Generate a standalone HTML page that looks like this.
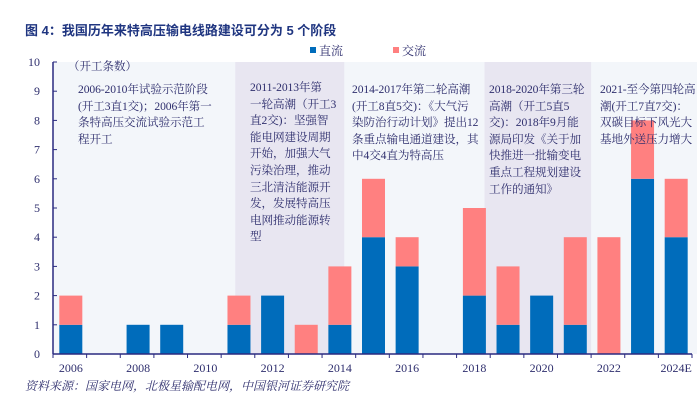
<!DOCTYPE html>
<html><head><meta charset="utf-8"><style>
body{margin:0;background:#fff;width:697px;height:408px;overflow:hidden;font-family:"Liberation Serif","Noto Serif CJK SC",serif;}
svg text{font-family:"Liberation Serif","Noto Serif CJK SC",serif;}
.ann{position:absolute;font-size:11.6px;line-height:16.6px;color:#2f2f6e;white-space:nowrap;letter-spacing:-0.1px;font-family:"Liberation Serif","Noto Serif CJK SC",serif;}
</style></head><body>
<div style="position:absolute;left:25px;top:20px;font-size:13px;font-weight:bold;color:#1f3580;font-family:'Liberation Sans','Noto Sans CJK SC',sans-serif;">图 4：我国历年来特高压输电线路建设可分为 5 个阶段</div>
<svg id="c" width="697" height="408" style="position:absolute;left:0;top:0"></svg>
<div class="ann" style="left:78px;top:82px">2006-2010年试验示范阶段<br>(开工3直1交)；2006年第一<br>条特高压交流试验示范工<br>程开工</div>
<div class="ann" style="left:250px;top:80px">2011-2013年第<br>一轮高潮（开工3<br>直2交)：坚强智<br>能电网建设周期<br>开始，加强大气<br>污染治理，推动<br>三北清洁能源开<br>发，发展特高压<br>电网推动能源转<br>型</div>
<div class="ann" style="left:352px;top:82px">2014-2017年第二轮高潮<br>(开工8直5交)：《大气污<br>染防治行动计划》提出12<br>条重点输电通道建设，其<br>中4交4直为特高压</div>
<div class="ann" style="left:489px;top:82px">2018-2020年第三轮<br>高潮（开工5直5<br>交)：2018年9月能<br>源局印发《关于加<br>快推进一批输变电<br>重点工程规划建设<br>工作的通知》</div>
<div class="ann" style="left:600px;top:82px">2021-至今第四轮高<br>潮(开工7直7交)：<br>双碳目标下风光大<br>基地外送压力增大</div>
<div style="position:absolute;left:25px;top:377px;font-size:12px;font-style:italic;color:#2f2f6e;">资料来源：国家电网，北极星输配电网，中国银河证券研究院</div>
<script>
const categories=["2006","2007","2008","2009","2010","2011","2012","2013","2014","2015","2016","2017","2018","2019","2020","2021","2022","2023","2024E"];
const dcValues=[1,0,1,1,0,1,2,0,1,4,3,0,2,1,2,1,0,6,4];
const acValues=[1,0,0,0,0,1,0,1,2,2,1,0,3,2,0,3,4,2,2];
const yTicks=[0,1,2,3,4,5,6,7,8,9,10];
const xLabelIdx=[0,2,4,6,8,10,12,14,16,18];
const shadedStages=[[5.42,8.66],[12.83,16.0]];
const NS="http://www.w3.org/2000/svg";
const svg=document.getElementById('c');
const x0=53,x1=692,yb=354,yt=62;
const slot=(x1-x0)/categories.length;
const xC=i=>x0+slot*(i+0.5);
const y=v=>yb-(yb-yt)*v/10;
function mk(t,a){const e=document.createElementNS(NS,t);for(const k in a)e.setAttribute(k,a[k]);svg.appendChild(e);return e;}
let e=mk('rect',{x:x0,y:yt,width:697-x0,height:yb-yt,fill:'#f3f6fa'});


shadedStages.forEach((s,k)=>{const r=mk('rect',{x:x0+slot*s[0],y:yt,width:slot*(s[1]-s[0]),height:yb-yt,fill:'#e8e6f1'});

});
categories.forEach((c,i)=>{const w=23,bx=xC(i)-w/2+1;
if(dcValues[i]>0){const r=mk('rect',{x:bx,y:y(dcValues[i]),width:w,height:y(0)-y(dcValues[i]),fill:'#006cbb'});

}
if(acValues[i]>0){const r=mk('rect',{x:bx,y:y(dcValues[i]+acValues[i]),width:w,height:y(dcValues[i])-y(dcValues[i]+acValues[i]),fill:'#ff8080'});

}});
e=mk('line',{x1:x0,y1:yt,x2:x0,y2:yb,stroke:'#2a2a80','stroke-width':1.5});


e=mk('line',{x1:x0,y1:yb,x2:x1,y2:yb,stroke:'#2a2a80','stroke-width':1.5});


yTicks.forEach(v=>{mk('line',{x1:x0,y1:y(v),x2:x0+4,y2:y(v),stroke:'#2a2a80'});
const t=mk('text',{x:40,y:y(v)+4,'text-anchor':'end','font-size':12,fill:'#2f2f6e'});t.textContent=v;

});
for(let i=0;i<=categories.length;i++)mk('line',{x1:x0+slot*i,y1:yb,x2:x0+slot*i,y2:yb+4,stroke:'#2a2a80'});
xLabelIdx.forEach(i=>{const t=mk('text',{x:xC(i)+1,y:372,'text-anchor':'middle','font-size':12,fill:'#2f2f6e'});t.textContent=categories[i];

});
e=mk('text',{x:68,y:70,'font-size':11.5,fill:'#2f2f6e'});e.textContent='（开工条数）';


e=mk('rect',{x:310,y:47,width:6,height:6,fill:'#006cbb'});


e=mk('text',{x:319,y:55,'font-size':12,fill:'#2f2f6e'});e.textContent='直流';


e=mk('rect',{x:393,y:47,width:6,height:6,fill:'#ff8080'});


e=mk('text',{x:402,y:55,'font-size':12,fill:'#2f2f6e'});e.textContent='交流';


</script>
</body></html>
